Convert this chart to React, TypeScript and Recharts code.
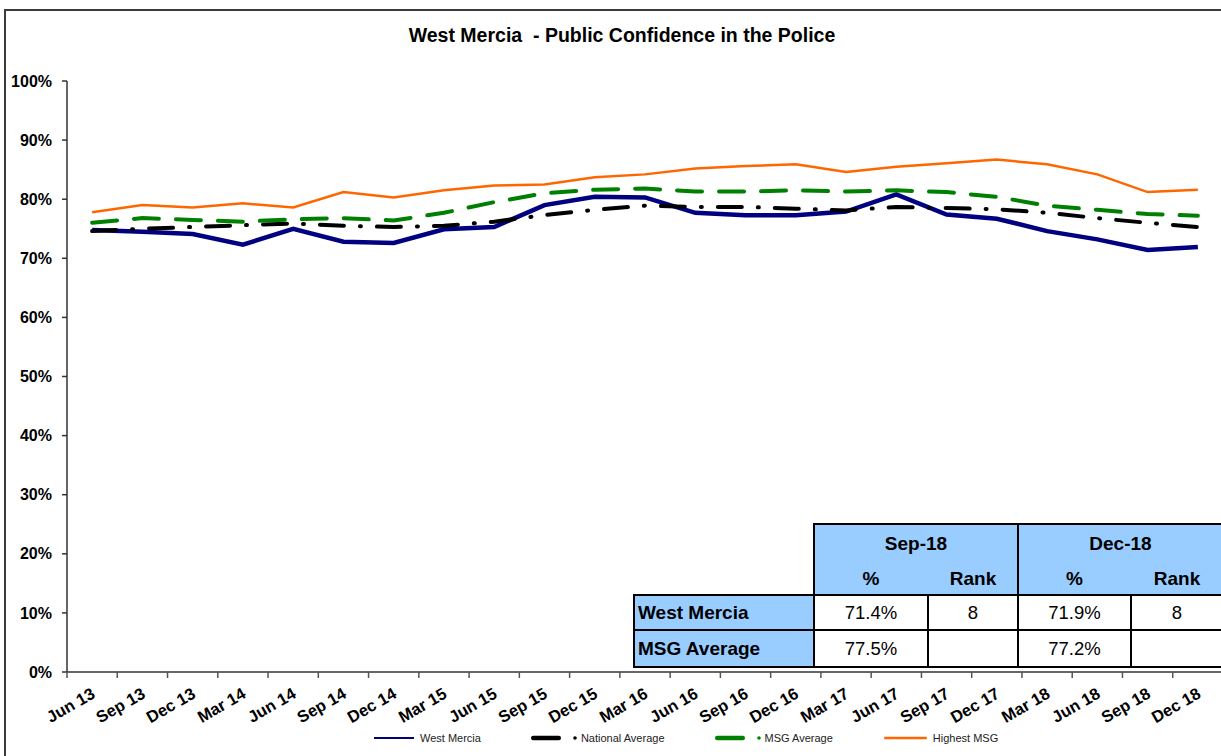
import { Line, LineChart, XAxis, YAxis } from "recharts";

const quarters = [
  "Jun 13", "Sep 13", "Dec 13", "Mar 14", "Jun 14", "Sep 14", "Dec 14", "Mar 15",
  "Jun 15", "Sep 15", "Dec 15", "Mar 16", "Jun 16", "Sep 16", "Dec 16", "Mar 17",
  "Jun 17", "Sep 17", "Dec 17", "Mar 18", "Jun 18", "Sep 18", "Dec 18",
];
const westMercia = [
  74.8, 74.5, 74.1, 72.3, 75.0, 72.8, 72.6, 74.9, 75.3, 79.0, 80.4, 80.3,
  77.7, 77.3, 77.3, 77.9, 80.8, 77.4, 76.7, 74.6, 73.2, 71.4, 71.9,
];
const nationalAverage = [
  74.6, 75.0, 75.3, 75.6, 75.9, 75.5, 75.3, 75.5, 76.2, 77.3, 78.2, 78.9,
  78.7, 78.7, 78.4, 78.1, 78.7, 78.5, 78.3, 77.7, 76.8, 76.0, 75.3,
];
const msgAverage = [
  76.0, 76.8, 76.5, 76.2, 76.6, 76.8, 76.4, 77.7, 79.5, 81.0, 81.6, 81.8,
  81.3, 81.3, 81.5, 81.3, 81.5, 81.2, 80.4, 78.9, 78.2, 77.5, 77.2,
];
const highestMsg = [
  77.8, 79.0, 78.6, 79.3, 78.6, 81.2, 80.3, 81.5, 82.3, 82.5, 83.7, 84.2,
  85.2, 85.6, 85.9, 84.6, 85.5, 86.1, 86.7, 85.9, 84.2, 81.2, 81.6,
];
const yTicks = [0, 10, 20, 30, 40, 50, 60, 70, 80, 90, 100];

const tableMonths = ["Sep-18", "Dec-18"];
const tableSubHeads = ["%", "Rank"];
const tableRowLabels = ["West Mercia", "MSG Average"];
const westMerciaRow = ["71.4%", "8", "71.9%", "8"];
const msgAverageRow = ["77.5%", "", "77.2%", ""];

const data = quarters.map((quarter, i) => ({
  quarter,
  westMercia: westMercia[i],
  nationalAverage: nationalAverage[i],
  msgAverage: msgAverage[i],
  highestMsg: highestMsg[i],
}));

const FONT = "Arial, 'Liberation Sans', sans-serif";
const PLOT_LEFT = 67;
const PLOT_RIGHT = 1223;
const PLOT_TOP = 81;
const PLOT_BOTTOM = 672;
const CHART_W = 1240;
const CHART_H = 760;
const X_AXIS_H = 60;
const Y_AXIS_W = 60;
const BAND = (PLOT_RIGHT - PLOT_LEFT) / quarters.length;

const QuarterTick = (props: any) => {
  const { x, y, payload } = props;
  const edge = x - BAND / 2;
  return (
    <g>
      <line x1={edge} x2={edge} y1={y} y2={y + 6} stroke="#555" strokeWidth={1.5} />
      <text
        transform={`translate(${x + 4},${y + 25}) rotate(-30)`}
        textAnchor="end"
        fontFamily={FONT}
        fontWeight="bold"
        fontSize={16.5}
        fill="#000"
      >
        {payload.value}
      </text>
    </g>
  );
};

// table grid (x edges of columns, y edges of rows)
const colX = [634, 814, 928, 1018, 1131, 1223];
const rowY = [524, 563, 595, 630, 667];
const HEAD_BG = "#99CCFF";

const Box = ({ x, y, w, h, bg, children, align = "center", bold = false }: any) => (
  <div
    style={{
      position: "absolute",
      left: x - 1,
      top: y - 1,
      width: w + 2,
      height: h + 2,
      boxSizing: "border-box",
      border: "2px solid #000",
      background: bg,
      display: "flex",
      alignItems: "center",
      justifyContent: align === "left" ? "flex-start" : "center",
      paddingLeft: align === "left" ? 3 : 0,
      fontFamily: FONT,
      fontWeight: bold ? "bold" : "normal",
      fontSize: bold ? 19 : 18.5,
      color: "#000",
    }}
  >
    {children}
  </div>
);

const DataTable = () => {
  const rows = [westMerciaRow, msgAverageRow];
  return (
    <>
      {tableMonths.map((m, mi) => {
        const x0 = colX[1 + mi * 2];
        const x1 = colX[3 + mi * 2];
        const top = rowY[0];
        const h = rowY[2] - rowY[0];
        return (
          <div key={m}>
            <Box x={x0} y={top} w={x1 - x0} h={h} bg={HEAD_BG} />
            <div
              style={{
                position: "absolute",
                left: x0,
                top: rowY[0],
                width: x1 - x0,
                height: rowY[1] - rowY[0],
                display: "flex",
                alignItems: "center",
                justifyContent: "center",
                fontFamily: FONT,
                fontWeight: "bold",
                fontSize: 19,
              }}
            >
              {m}
            </div>
            {tableSubHeads.map((s, si) => (
              <div
                key={s}
                style={{
                  position: "absolute",
                  left: colX[1 + mi * 2 + si],
                  top: rowY[1],
                  width: colX[2 + mi * 2 + si] - colX[1 + mi * 2 + si],
                  height: rowY[2] - rowY[1],
                  display: "flex",
                  alignItems: "center",
                  justifyContent: "center",
                  fontFamily: FONT,
                  fontWeight: "bold",
                  fontSize: 19,
                }}
              >
                {s}
              </div>
            ))}
          </div>
        );
      })}
      {rows.map((row, ri) => (
        <div key={ri}>
          <Box
            x={colX[0]}
            y={rowY[2 + ri]}
            w={colX[1] - colX[0]}
            h={rowY[3 + ri] - rowY[2 + ri]}
            bg={HEAD_BG}
            align="left"
            bold
          >
            {tableRowLabels[ri]}
          </Box>
          {row.map((v, ci) => (
            <Box
              key={ci}
              x={colX[1 + ci]}
              y={rowY[2 + ri]}
              w={colX[2 + ci] - colX[1 + ci]}
              h={rowY[3 + ri] - rowY[2 + ri]}
              bg="#fff"
            >
              {v}
            </Box>
          ))}
        </div>
      ))}
    </>
  );
};

const legendItems = [
  { label: "West Mercia", color: "#000080", width: 2, len: 42, dot: false },
  { label: "National Average", color: "#000", width: 4.5, len: 30, dot: true },
  { label: "MSG Average", color: "#008000", width: 4.5, len: 30, dot: true },
  { label: "Highest MSG", color: "#FF6600", width: 2.5, len: 45, dot: false },
];

const ChartLegend = () => (
  <div
    style={{
      position: "absolute",
      left: 373,
      top: 730,
      display: "flex",
      alignItems: "center",
      gap: 50,
      fontFamily: FONT,
      fontSize: 11,
      color: "#222",
    }}
  >
    {legendItems.map((it) => (
      <div key={it.label} style={{ display: "flex", alignItems: "center", height: 16 }}>
        <svg width={it.dot ? 47 : it.len + 5} height={16}>
          <line
            x1={it.width / 2}
            x2={it.len - it.width / 2}
            y1={8}
            y2={8}
            stroke={it.color}
            strokeWidth={it.width}
            strokeLinecap={it.dot ? "round" : "butt"}
          />
          {it.dot && <circle cx={44} cy={8} r={1.8} fill={it.color} />}
        </svg>
        <span style={{ marginLeft: it.dot ? 3 : 0 }}>{it.label}</span>
      </div>
    ))}
  </div>
);

export default function App() {
  return (
    <div
      style={{
        position: "absolute",
        left: 0,
        top: 0,
        width: 1221,
        height: 756,
        overflow: "hidden",
        background: "#fff",
      }}
    >
      <div
        style={{
          position: "absolute",
          left: 4,
          top: 9,
          width: 1300,
          height: 800,
          border: "2px solid #3a3a3a",
        }}
      />
      <div
        style={{
          position: "absolute",
          left: 0,
          top: 24,
          width: 1244,
          textAlign: "center",
          fontFamily: FONT,
          fontWeight: "bold",
          fontSize: 19.5,
          color: "#000",
          whiteSpace: "pre",
        }}
      >
        {"West Mercia  - Public Confidence in the Police"}
      </div>
      <div style={{ position: "absolute", left: 0, top: 0 }}>
        <LineChart
          width={CHART_W}
          height={CHART_H}
          data={data}
          margin={{
            top: PLOT_TOP,
            right: CHART_W - PLOT_RIGHT,
            left: PLOT_LEFT - Y_AXIS_W,
            bottom: CHART_H - PLOT_BOTTOM - X_AXIS_H,
          }}
        >
          <XAxis
            dataKey="quarter"
            interval={0}
            height={X_AXIS_H}
            padding={{ left: BAND / 2, right: BAND / 2 }}
            tickSize={0}
            tickMargin={0}
            tick={<QuarterTick />}
            axisLine={{ stroke: "#666", strokeWidth: 2 }}
          />
          <YAxis
            width={Y_AXIS_W}
            domain={[0, 100]}
            ticks={yTicks}
            interval={0}
            tickSize={5}
            tickMargin={10}
            tickFormatter={(v: number) => `${v}%`}
            tick={{ fontFamily: FONT, fontWeight: "bold", fontSize: 16, fill: "#000" }}
            axisLine={{ stroke: "#333", strokeWidth: 1.5 }}
            tickLine={{ stroke: "#333", strokeWidth: 1.5 }}
          />
          <Line
            dataKey="westMercia"
            type="linear"
            stroke="#000080"
            strokeWidth={4.5}
            dot={false}
            isAnimationActive={false}
          />
          <Line
            dataKey="nationalAverage"
            type="linear"
            stroke="#000"
            strokeWidth={4}
            strokeDasharray="24 16 1 16"
            strokeLinecap="round"
            dot={false}
            isAnimationActive={false}
          />
          <Line
            dataKey="msgAverage"
            type="linear"
            stroke="#008000"
            strokeWidth={4}
            strokeDasharray="25 17"
            strokeLinecap="round"
            dot={false}
            isAnimationActive={false}
          />
          <Line
            dataKey="highestMsg"
            type="linear"
            stroke="#FF6600"
            strokeWidth={2.5}
            dot={false}
            isAnimationActive={false}
          />
        </LineChart>
      </div>
      <DataTable />
      <ChartLegend />
    </div>
  );
}
